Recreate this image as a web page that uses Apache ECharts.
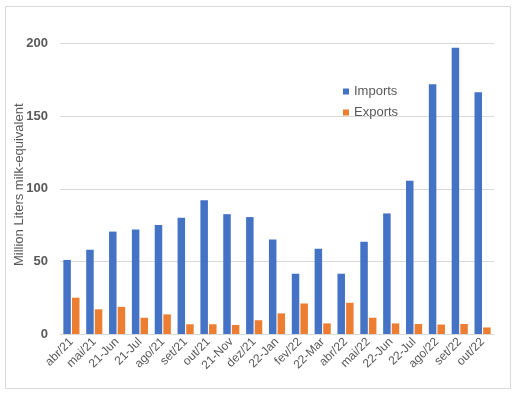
<!DOCTYPE html>
<html><head><meta charset="utf-8">
<script src="https://cdn.jsdelivr.net/npm/echarts@6/dist/echarts.min.js"></script>
<style>html,body{margin:0;padding:0;background:#fff}#c{width:517px;height:396px}</style>
</head><body><div id="c"></div>
<script>
var categories = ['abr/21','mai/21','21-Jun','21-Jul','ago/21','set/21','out/21','21-Nov','dez/21','22-Jan','fev/22','22-Mar','abr/22','mai/22','22-Jun','22-Jul','ago/22','set/22','out/22'];
var imports = [51, 58, 70.5, 72, 75, 80, 92, 82.5, 80.5, 65, 41.5, 58.7, 41.5, 63.5, 83, 105.5, 172, 197, 166.5];
var exports = [25, 17, 18.7, 11.2, 13.5, 6.7, 6.7, 6.2, 9.5, 14.2, 21, 7.3, 21.5, 11.2, 7.3, 6.9, 6.5, 6.9, 4.5];
var yTicks = [0, 50, 100, 150, 200];

var chart = echarts.init(document.getElementById('c'));
chart.setOption({
  animation: false,
  graphic: [{type:'rect', shape:{x:5.5,y:6.5,width:505,height:382}, style:{fill:'none', stroke:'#d9d9d9', lineWidth:1}}],
  legend: {
    orient: 'vertical', left: 338, top: 80, itemWidth: 6, itemHeight: 6, itemGap: 8,
    icon: 'rect',
    textStyle: {color:'#595959', fontSize: 13, fontFamily: 'Liberation Sans, Arial, sans-serif'},
    data: ['Imports','Exports']
  },
  grid: {left: 60, right: 23, top: 43.5, bottom: 62, containLabel: false, outerBoundsMode: 'none'},
  xAxis: {
    type: 'category', data: categories,
    axisTick: {show:false},
    axisLine: {lineStyle:{color:'#d9d9d9'}},
    axisLabel: {rotate: 45, color:'#595959', fontSize: 12, interval: 0, margin: 6, fontFamily: 'Liberation Sans, Arial, sans-serif'}
  },
  yAxis: {
    type: 'value', min: 0, max: 200, interval: 50,
    name: 'Million Liters milk-equivalent', nameLocation: 'middle', nameGap: 34, nameMoveOverlap: false,
    nameTextStyle: {color:'#595959', fontSize: 13, fontFamily: 'Liberation Sans, Arial, sans-serif', padding: [0, 0, 0, 8]},
    axisLabel: {color:'#595959', fontSize: 13, fontWeight: 'bold', margin: 12, fontFamily: 'Liberation Sans, Arial, sans-serif',
      formatter: function(v){ return yTicks.indexOf(v) >= 0 ? String(v) : ''; }},
    splitLine: {lineStyle:{color:'#d9d9d9'}},
    axisLine: {show:false}, axisTick: {show:false}
  },
  series: [
    {name:'Imports', type:'bar', data: imports, barWidth: 7.5, barGap: '15%', itemStyle:{color:'#4472c4'}},
    {name:'Exports', type:'bar', data: exports, barWidth: 7.5, itemStyle:{color:'#ed7d31'}}
  ]
});
</script></body></html>
